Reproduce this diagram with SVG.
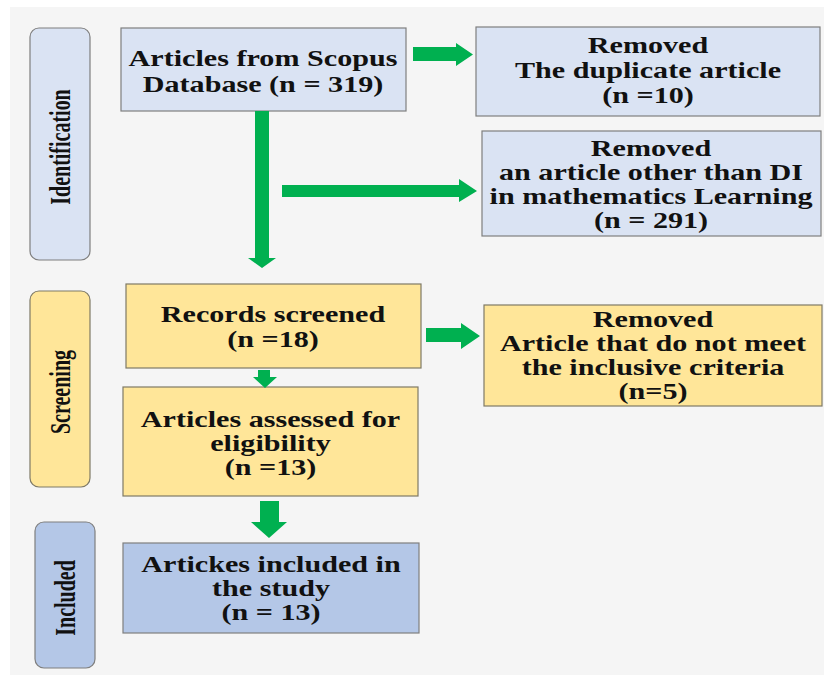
<svg xmlns="http://www.w3.org/2000/svg" width="824" height="675" viewBox="0 0 824 675">
<defs>
<style>
.bg{fill:#f5f5f5}
.blue{fill:#dae3f3;stroke:#7f7f7f;stroke-width:1.2}
.dblue{fill:#b4c7e7;stroke:#7f7f7f;stroke-width:1.2}
.yel{fill:#ffe699;stroke:#7f7a66;stroke-width:1.2}
.t{font-family:"Liberation Serif","Times New Roman",serif;font-weight:bold;font-size:23px;fill:#111;text-anchor:middle}
.r{font-family:"Liberation Serif","Times New Roman",serif;font-weight:bold;font-size:20px;fill:#111;text-anchor:middle}
.arr{fill:#00b050}
</style>
</defs>
<rect class="bg" x="10" y="7" width="814" height="668"/>

<g id="stage-identification">
<rect class="blue" x="30" y="28" width="60" height="232" rx="9"/>
<text class="r" transform="translate(60,147) scale(1.45,1) rotate(-90)" x="0" y="7">Identification</text>
</g>
<g id="stage-screening">
<rect class="yel" x="30" y="291" width="60" height="196" rx="9"/>
<text class="r" transform="translate(60,392) scale(1.45,1) rotate(-90)" x="0" y="7">Screening</text>
</g>
<g id="stage-included">
<rect class="dblue" x="35" y="522" width="60" height="146" rx="9"/>
<text class="r" transform="translate(65,598) scale(1.45,1) rotate(-90)" x="0" y="7">Included</text>
</g>

<g id="scopus">
<rect class="blue" x="121" y="28" width="285" height="83"/>
<text class="t" transform="matrix(1.31 0 0 1 263 0)"><tspan x="0" y="66">Articles from Scopus</tspan><tspan x="0" y="92">Database (n = 319)</tspan></text>
</g>
<g id="removed-duplicate">
<rect class="blue" x="476" y="27" width="344" height="89"/>
<text class="t" transform="matrix(1.31 0 0 1 648 0)"><tspan x="0" y="53">Removed</tspan><tspan x="0" y="78">The duplicate article</tspan><tspan x="0" y="103">(n =10)</tspan></text>
</g>
<g id="removed-other">
<rect class="blue" x="482" y="131" width="339" height="105"/>
<text class="t" transform="matrix(1.31 0 0 1 651 0)"><tspan x="0" y="156">Removed</tspan><tspan x="0" y="180">an article other than DI</tspan><tspan x="0" y="204">in mathematics Learning</tspan><tspan x="0" y="228">(n = 291)</tspan></text>
</g>
<g id="records-screened">
<rect class="yel" x="126" y="284" width="295" height="84"/>
<text class="t" transform="matrix(1.31 0 0 1 273 0)"><tspan x="0" y="322">Records screened</tspan><tspan x="0" y="347">(n =18)</tspan></text>
</g>
<g id="removed-criteria">
<rect class="yel" x="484" y="305" width="338" height="101"/>
<text class="t" transform="matrix(1.31 0 0 1 653 0)"><tspan x="0" y="327">Removed</tspan><tspan x="0" y="351">Article that do not meet</tspan><tspan x="0" y="375">the inclusive criteria</tspan><tspan x="0" y="399">(n=5)</tspan></text>
</g>
<g id="assessed">
<rect class="yel" x="123" y="387" width="295" height="109"/>
<text class="t" transform="matrix(1.31 0 0 1 270.5 0)"><tspan x="0" y="427">Articles assessed for</tspan><tspan x="0" y="451">eligibility</tspan><tspan x="0" y="475">(n =13)</tspan></text>
</g>
<g id="included">
<rect class="dblue" x="123" y="543" width="296" height="90"/>
<text class="t" transform="matrix(1.31 0 0 1 271 0)"><tspan x="0" y="572">Artickes included in</tspan><tspan x="0" y="596">the study</tspan><tspan x="0" y="620">(n = 13)</tspan></text>
</g>

<g id="connectors">
<polygon class="arr" points="413,47 456,47 456,43 473,54.5 456,66 456,61 413,61"/>
<polygon class="arr" points="255,111 269,111 269,258 276,258 262,268 248,258 255,258"/>
<polygon class="arr" points="282,185 459,185 459,179 477,191 459,202 459,197 282,197"/>
<polygon class="arr" points="426,328 461,328 461,323 480,336 461,349 461,342 426,342"/>
<polygon class="arr" points="258,370 270,370 270,377 277,377 265,388 253,377 258,377"/>
<polygon class="arr" points="260,501 279,501 279,522 287,522 269,538 251,522 260,522"/>
</g>
</svg>
